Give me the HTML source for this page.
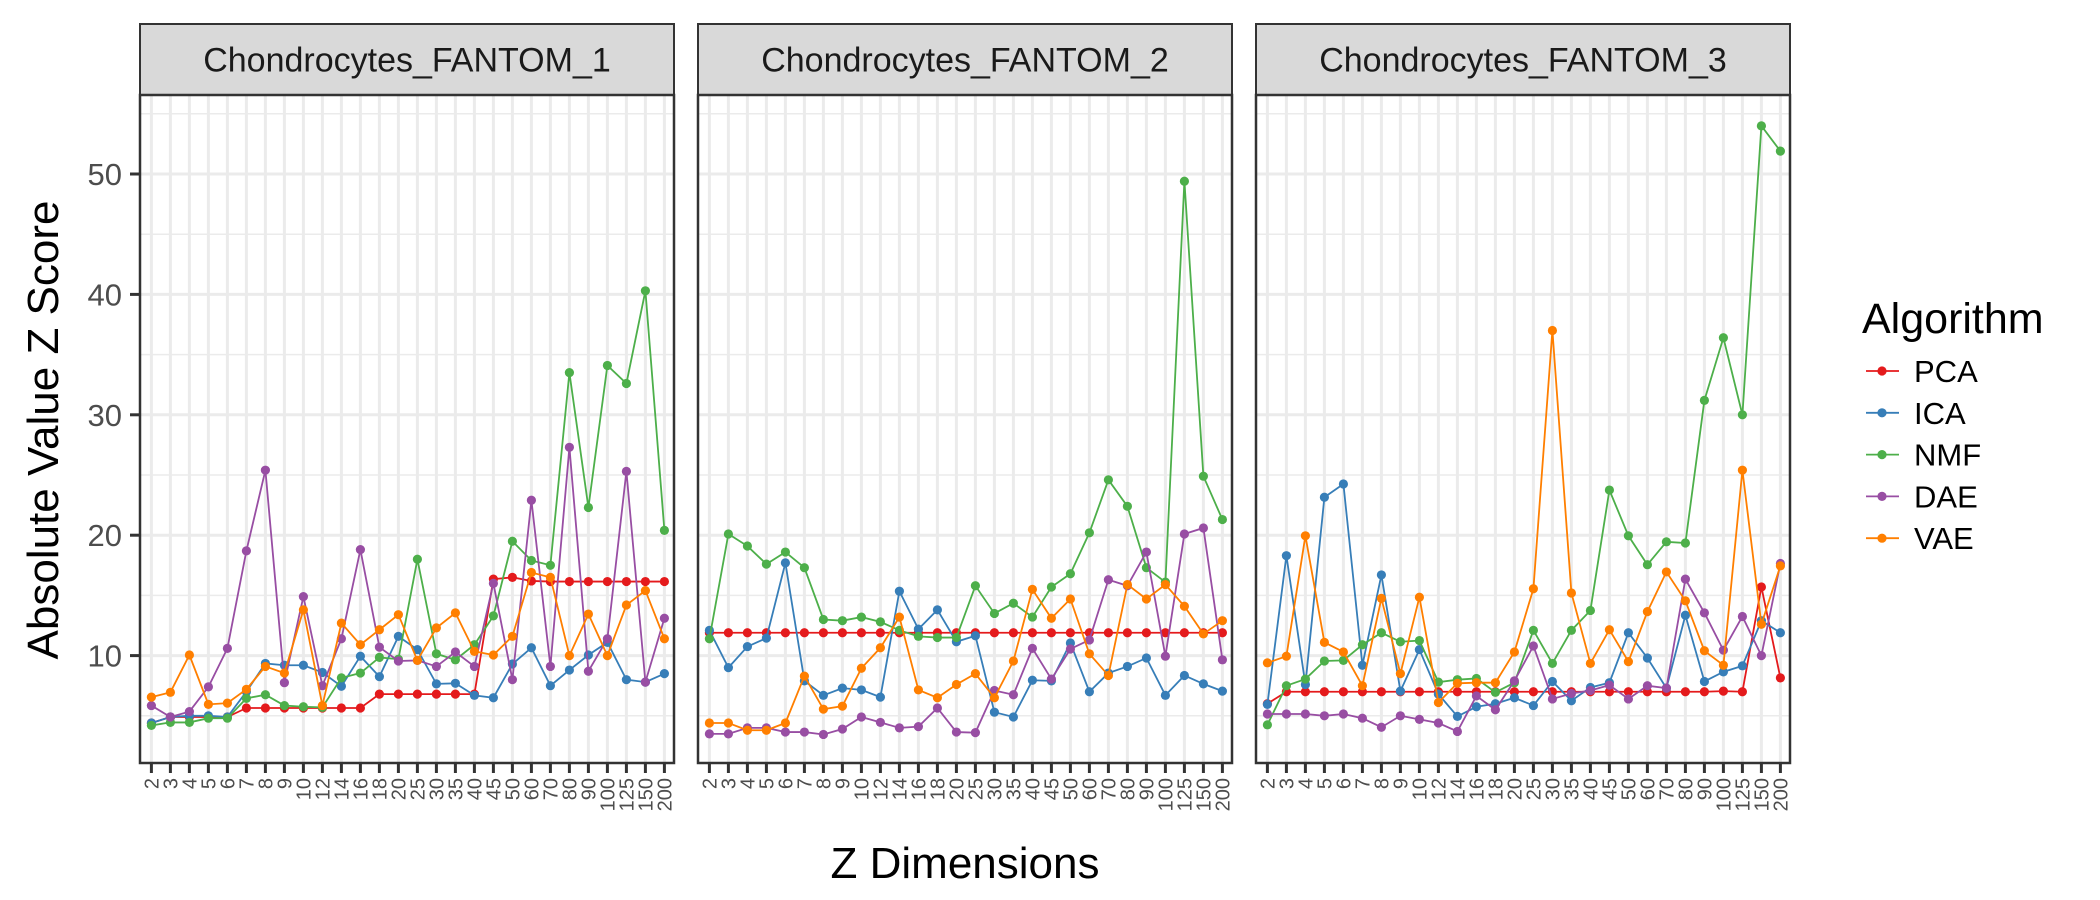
<!DOCTYPE html>
<html><head><meta charset="utf-8"><style>
html,body{margin:0;padding:0;background:#fff;}
svg{display:block;font-family:"Liberation Sans",Arial,sans-serif;}
</style></head><body>
<svg id="chart" width="2100" height="900" viewBox="0 0 2100 900" xmlns="http://www.w3.org/2000/svg"></svg>
<script>
const categories = ["2","3","4","5","6","7","8","9","10","12","14","16","18","20","25","30","35","40","45","50","60","70","80","90","100","125","150","200"];
const panelTitles = ["Chondrocytes_FANTOM_1","Chondrocytes_FANTOM_2","Chondrocytes_FANTOM_3"];
const algorithms = ["PCA","ICA","NMF","DAE","VAE"];
const yTicks = [10,20,30,40,50];
const yMinorTicks = [5,15,25,35,45,55];

const p1PCA = [4.4,4.9,4.9,4.9,4.9,5.65,5.65,5.65,5.65,5.65,5.65,5.65,6.8,6.8,6.8,6.8,6.8,6.8,16.35,16.5,16.2,16.15,16.15,16.15,16.15,16.15,16.15,16.15];
const p1ICA = [4.4,4.9,5.0,5.0,4.9,7.0,9.35,9.2,9.2,8.6,7.45,9.95,8.25,11.6,10.5,7.65,7.7,6.7,6.5,9.3,10.65,7.5,8.8,10.05,11.1,8.0,7.8,8.5];
const p1NMF = [4.2,4.45,4.45,4.8,4.8,6.45,6.75,5.85,5.75,5.7,8.15,8.55,9.85,9.7,18.0,10.15,9.65,10.9,13.3,19.5,17.9,17.5,33.5,22.3,34.1,32.6,40.3,20.4];
const p1DAE = [5.85,4.9,5.35,7.4,10.6,18.7,25.4,7.75,14.9,7.5,11.4,18.8,10.7,9.55,9.6,9.1,10.3,9.1,16.0,8.0,22.9,9.1,27.3,8.7,11.4,25.3,7.8,13.1];
const p1VAE = [6.55,6.95,10.05,5.95,6.05,7.2,9.1,8.55,13.8,5.85,12.7,10.9,12.15,13.4,9.6,12.3,13.55,10.35,10.05,11.6,16.9,16.5,10.0,13.45,10.0,14.2,15.4,11.4];

const p2PCA = [11.9,11.9,11.9,11.9,11.9,11.9,11.9,11.9,11.9,11.9,11.9,11.9,11.9,11.9,11.9,11.9,11.9,11.9,11.9,11.9,11.9,11.9,11.9,11.9,11.9,11.9,11.9,11.9];
const p2ICA = [12.1,9.0,10.75,11.45,17.7,7.9,6.7,7.3,7.15,6.55,15.35,12.2,13.8,11.15,11.65,5.3,4.9,7.95,7.9,11.05,7.0,8.55,9.1,9.8,6.7,8.35,7.65,7.05];
const p2NMF = [11.4,20.1,19.1,17.6,18.6,17.3,13.0,12.9,13.2,12.8,12.1,11.6,11.5,11.5,15.8,13.5,14.35,13.2,15.7,16.8,20.2,24.6,22.4,17.3,16.1,49.4,24.9,21.3];
const p2DAE = [3.5,3.5,4.0,4.0,3.65,3.65,3.45,3.9,4.9,4.45,4.0,4.1,5.65,3.65,3.6,7.1,6.75,10.6,8.05,10.55,11.3,16.3,15.8,18.6,9.95,20.1,20.6,9.65];
const p2VAE = [4.4,4.4,3.8,3.8,4.4,8.3,5.55,5.8,8.95,10.65,13.2,7.15,6.5,7.6,8.5,6.5,9.55,15.5,13.1,14.7,10.15,8.35,15.9,14.7,15.9,14.1,11.8,12.9];

const p3PCA = [6.0,7.0,7.0,7.0,7.0,7.0,7.0,7.0,7.0,7.0,7.0,7.0,7.0,7.0,7.0,7.0,7.0,7.0,7.0,7.0,7.0,7.0,7.0,7.0,7.05,7.0,15.7,8.15];
const p3ICA = [5.95,18.3,7.6,23.15,24.25,9.2,16.7,7.05,10.5,6.8,4.95,5.75,6.0,6.5,5.85,7.85,6.25,7.35,7.75,11.9,9.8,7.3,13.35,7.85,8.65,9.15,12.9,11.9];
const p3NMF = [4.25,7.5,8.05,9.55,9.6,10.9,11.9,11.15,11.25,7.8,8.0,8.1,6.95,7.75,12.1,9.35,12.1,13.75,23.75,19.95,17.55,19.45,19.35,31.2,36.4,30.0,54.0,51.9];
const p3DAE = [5.15,5.15,5.15,5.0,5.15,4.8,4.05,5.0,4.7,4.4,3.7,6.65,5.5,7.9,10.8,6.4,6.85,7.1,7.55,6.4,7.5,7.3,16.35,13.55,10.45,13.25,10.0,17.65];
const p3VAE = [9.4,9.95,19.95,11.1,10.3,7.5,14.75,8.5,14.85,6.1,7.7,7.75,7.75,10.3,15.55,37.0,15.2,9.35,12.15,9.5,13.65,16.95,14.55,10.4,9.2,25.4,12.6,17.45];

const panels = [[p1PCA,p1ICA,p1NMF,p1DAE,p1VAE],[p2PCA,p2ICA,p2NMF,p2DAE,p2VAE],[p3PCA,p3ICA,p3NMF,p3DAE,p3VAE]];
const colors = ["#E41A1C","#377EB8","#4DAF4A","#984EA3","#FF7F00"];

const NS = "http://www.w3.org/2000/svg";
const svg = document.getElementById("chart");
function mk(tag, attrs, parent){
  const e = document.createElementNS(NS, tag);
  for (const k in attrs) e.setAttribute(k, attrs[k]);
  (parent||svg).appendChild(e);
  return e;
}
const panelLefts = [140,698,1256];
const panelW = 534, panelTop = 95, panelBottom = 763, stripTop = 24;
const step = 19, expand = 11.4;
function yScale(v){ return 776 - v*12.04; }
function xScale(p, i){ return panelLefts[p] + expand + i*step; }

panelLefts.forEach((L, p) => {
  const g = mk("g", {});
  
  
  const strip = mk("rect", {x:L, y:stripTop, width:panelW, height:panelTop-stripTop, fill:"#d9d9d9", stroke:"#333", "stroke-width":2}, g);
  
  
  const st = mk("text", {x:L+panelW/2, y:(stripTop+panelTop)/2+12, "text-anchor":"middle", "font-size":34, fill:"#1a1a1a"}, g);
  st.textContent = panelTitles[p];
  
  
  yMinorTicks.forEach(v => { mk("line", {x1:L, x2:L+panelW, y1:yScale(v), y2:yScale(v), stroke:"#ebebeb", "stroke-width":1.5}, g); });
  yTicks.forEach(v => { mk("line", {x1:L, x2:L+panelW, y1:yScale(v), y2:yScale(v), stroke:"#ebebeb", "stroke-width":3}, g); });
  categories.forEach((c, i) => {
    const x = xScale(p, i);
    mk("line", {x1:x, x2:x, y1:panelTop, y2:panelBottom, stroke:"#ebebeb", "stroke-width":3}, g);
    mk("line", {x1:x, x2:x, y1:panelBottom, y2:panelBottom+10, stroke:"#333", "stroke-width":3}, g);
    const t = mk("text", {x:0, y:0, "text-anchor":"end", "font-size":20, fill:"#4d4d4d", transform:`translate(${x+7},${panelBottom+15}) rotate(-90)`}, g);
    t.textContent = c;
    
    
  });
  panels[p].forEach((vals, s) => {
    const pts = vals.map((v, i) => xScale(p, i) + "," + yScale(v)).join(" ");
    const line = mk("polyline", {points:pts, fill:"none", stroke:colors[s], "stroke-width":1.8}, g);
    
    
    vals.forEach((v, i) => {
      const c = mk("circle", {cx:xScale(p, i), cy:yScale(v), r:4.6, fill:colors[s]}, g);
      
      
    });
  });
  const border = mk("rect", {x:L, y:panelTop, width:panelW, height:panelBottom-panelTop, fill:"none", stroke:"#333", "stroke-width":2.5}, g);
  
  
});

yTicks.forEach(v => {
  mk("line", {x1:130, x2:140, y1:yScale(v), y2:yScale(v), stroke:"#333", "stroke-width":3});
  const t = mk("text", {x:122, y:yScale(v)+11, "text-anchor":"end", "font-size":31, fill:"#4d4d4d"});
  t.textContent = v;
  
  
});
const yt = mk("text", {x:0, y:0, "text-anchor":"middle", "font-size":44, fill:"#000", transform:"translate(58,430) rotate(-90)"});
yt.textContent = "Absolute Value Z Score";


const xt = mk("text", {x:965, y:878, "text-anchor":"middle", "font-size":44, fill:"#000"});
xt.textContent = "Z Dimensions";



const lg = mk("g", {});


const ltitle = mk("text", {x:1862, y:333, "font-size":43, fill:"#000"}, lg);
ltitle.textContent = "Algorithm";


algorithms.forEach((a, s) => {
  const y = 371 + s*41.8;
  const e = mk("g", {}, lg);
  
  
  mk("line", {x1:1866, x2:1899, y1:y, y2:y, stroke:colors[s], "stroke-width":1.8}, e);
  mk("circle", {cx:1882, cy:y, r:4.6, fill:colors[s]}, e);
  const t = mk("text", {x:1914, y:y+11, "font-size":31, fill:"#000"}, e);
  t.textContent = a;
});
</script>
</body></html>
